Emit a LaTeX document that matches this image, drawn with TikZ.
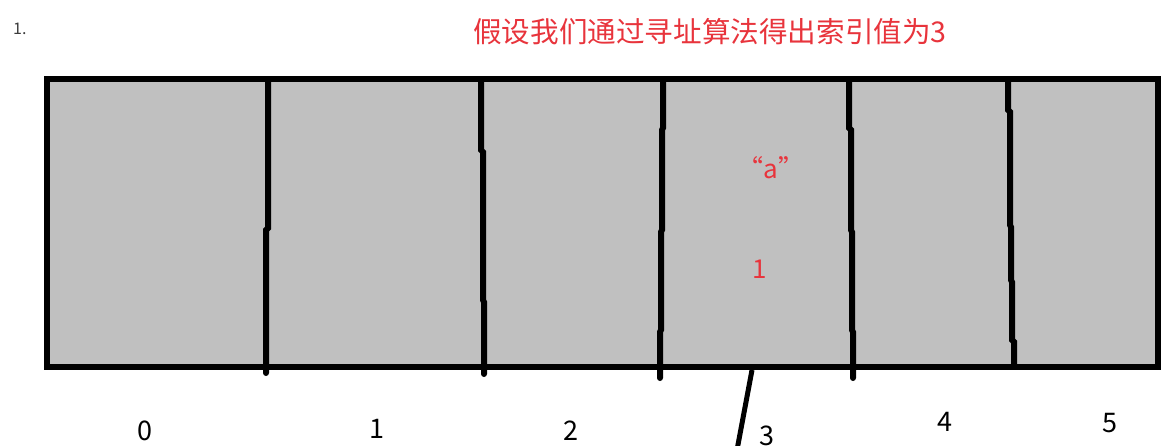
\documentclass[tikz,border=0pt]{standalone}
\usepackage{fontspec}
\setmainfont{Noto Sans CJK SC}
\definecolor{cellgray}{RGB}{192,192,192}
\definecolor{tred}{RGB}{232,52,60}
\definecolor{numgray}{RGB}{60,60,60}
\tikzset{
  bar/.style={line width=6pt, line cap=round, line join=miter},
  idx/.style={font=\fontsize{27}{27}\selectfont, text=black, inner sep=0pt},
  redtext/.style={text=tred, inner sep=0pt},
}
\begin{document}
\begin{tikzpicture}[x=1pt,y=-1pt]
\useasboundingbox (0,0) rectangle (1174,445);
\clip (0,0) rectangle (1174,445);
% array body
\draw[bar, fill=cellgray, line cap=butt] (47,79) rectangle (1158,367);
% dividers (hand-drawn look)
\draw[bar] (268,82) -- (268,228) -- (266,230) -- (266,373);
\draw[bar] (481,82) -- (481,150) -- (483,152) -- (483,300) -- (484,302) -- (484,374);
\draw[bar] (663,82) -- (663,128) -- (662,130) -- (662,230) -- (661,232) -- (661,330) -- (660,332) -- (660,378);
\draw[bar] (849,82) -- (849,128) -- (851,130) -- (851,230) -- (852,232) -- (852,330) -- (853,332) -- (853,378);
\draw[bar, line cap=butt] (1008,82) -- (1008,110) -- (1010,112) -- (1010,225) -- (1011,227) -- (1011,280) -- (1012,282) -- (1012,340) -- (1014,342) -- (1014,367);
% pointer line
\coordinate (ptop) at (752,370);
\coordinate (pbot) at (737,450);
\draw[line width=5pt] (ptop) -- (pbot);
% texts
\node[anchor=west, text=numgray, font=\fontsize{16}{16}\selectfont, inner sep=0pt] (num) at (13,29) {1.};
\node[anchor=west, redtext, font=\fontsize{28.6}{29}\selectfont] (title) at (473,32) {假设我们通过寻址算法得出索引值为3};
\node[redtext, font=\fontsize{26}{26}\selectfont] (aval) at (771,168) {“a”};
\node[redtext, font=\fontsize{26}{26}\selectfont] (one) at (760,269) {1};
\node[idx] (i0) at (145,431) {0};
\node[idx] (i1) at (377,429) {1};
\node[idx] (i2) at (571,431) {2};
\node[idx] (i3) at (767,436) {3};
\node[idx] (i4) at (945,422) {4};
\node[idx] (i5) at (1110,423) {5};
\end{tikzpicture}
\end{document}
